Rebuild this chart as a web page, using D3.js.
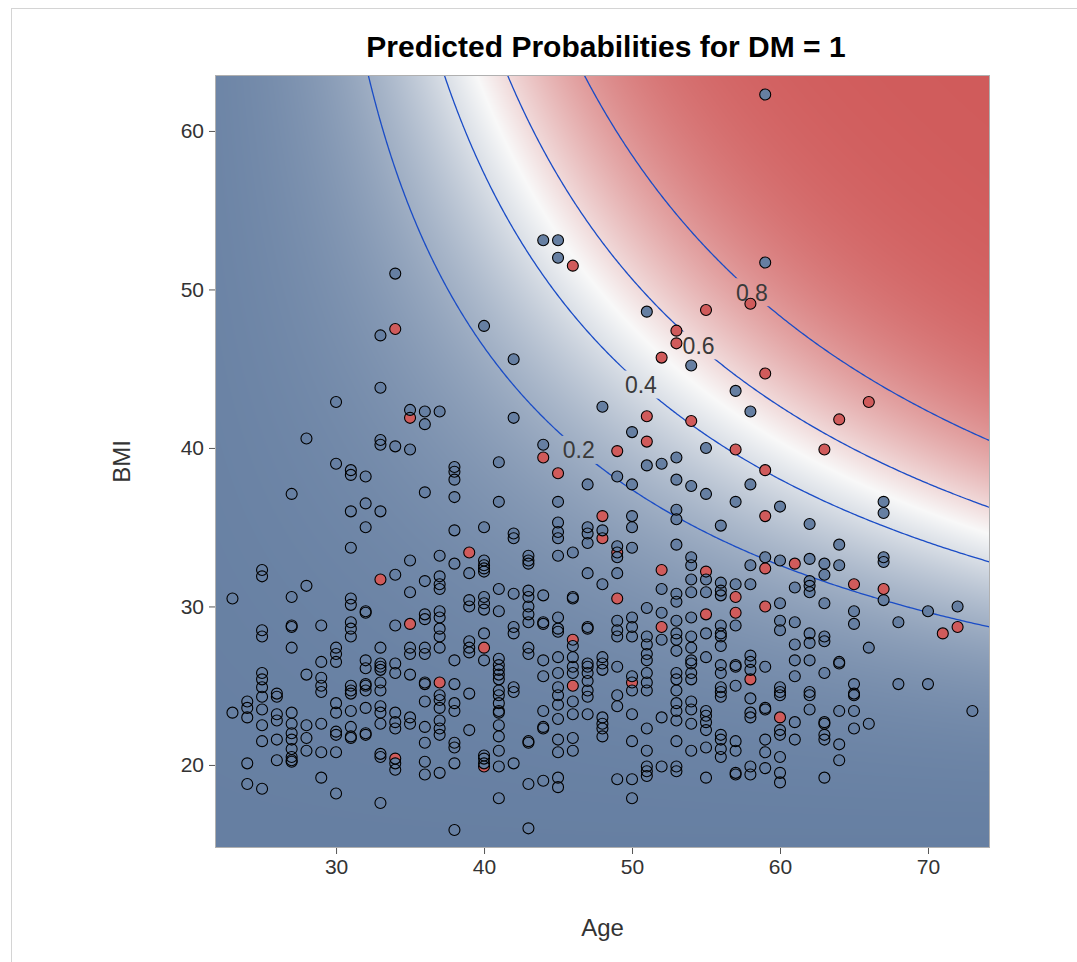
<!DOCTYPE html>
<html>
<head>
<meta charset="utf-8">
<script src="https://cdn.jsdelivr.net/npm/d3@7"></script>
<style>
  body { margin: 0; background: #fff; }
  svg { display: block; font-family: "Liberation Sans", Arial, sans-serif; }
</style>
</head>
<body>
<svg id="chart" width="1077" height="962"></svg>
<script>
// Observed patients, grouped by age: [age, [BMI values]]
const noDiabetesByAge = [
  [23, [30.5, 23.3]],
  [24, [24.0, 23.6, 23.0, 20.1, 18.8]],
  [25, [32.3, 31.9, 28.5, 28.1, 25.8, 25.4, 24.9, 24.3, 23.5, 22.5, 21.5, 18.5]],
  [26, [24.5, 24.3, 23.2, 22.8, 21.6, 20.3]],
  [27, [37.1, 30.6, 28.8, 28.7, 27.4, 23.3, 22.6, 22.0, 21.6, 21.0, 20.5, 20.3, 20.2]],
  [28, [40.6, 31.3, 25.7, 22.5, 21.7, 20.9]],
  [29, [28.8, 26.5, 25.5, 25.0, 24.6, 22.6, 20.8, 19.2]],
  [30, [42.9, 39.0, 27.4, 27.0, 26.5, 23.9, 23.3, 22.1, 21.9, 20.8, 18.2]],
  [31, [38.6, 38.3, 36.0, 33.7, 30.5, 30.1, 29.0, 28.6, 28.1, 25.0, 24.7, 24.5, 23.4, 22.4, 21.8, 21.7]],
  [32, [38.2, 36.5, 35.0, 29.7, 29.6, 26.6, 26.1, 25.1, 25.0, 24.7, 23.6, 22.0, 21.9]],
  [33, [47.1, 43.8, 40.5, 40.2, 36.0, 27.4, 26.4, 26.2, 26.0, 25.2, 24.7, 23.7, 23.3, 22.6, 20.7, 20.5, 17.6]],
  [34, [51.0, 40.1, 32.0, 28.8, 26.4, 25.8, 23.3, 22.7, 22.3, 20.1, 19.7]],
  [35, [42.4, 39.9, 32.9, 30.9, 27.4, 27.0, 25.7, 23.0, 22.6]],
  [36, [42.3, 41.5, 37.2, 31.6, 29.5, 29.2, 27.4, 27.0, 25.2, 25.1, 24.0, 22.4, 21.4, 20.2, 19.4]],
  [37, [42.3, 33.2, 31.9, 31.4, 31.1, 29.7, 29.3, 28.6, 28.1, 27.4, 24.4, 24.1, 23.6, 22.8, 22.3, 21.9, 19.5]],
  [38, [38.8, 38.5, 38.0, 36.9, 34.8, 32.7, 26.6, 25.1, 23.9, 23.4, 21.4, 21.1, 20.1, 15.9]],
  [39, [32.1, 30.4, 30.0, 27.8, 27.4, 27.1, 24.5, 22.2]],
  [40, [47.7, 35.0, 32.9, 32.6, 32.4, 32.2, 30.6, 30.2, 29.8, 28.3, 26.6, 20.6, 20.4, 20.1]],
  [41, [39.1, 36.6, 31.1, 29.7, 26.7, 26.3, 26.0, 25.7, 25.4, 24.7, 24.4, 23.9, 23.4, 23.3, 22.5, 21.8, 20.9, 19.9, 17.9]],
  [42, [45.6, 41.9, 34.6, 34.3, 30.8, 28.7, 28.3, 24.9, 24.6, 20.1]],
  [43, [33.2, 32.9, 32.7, 31.0, 30.6, 30.0, 29.5, 29.0, 27.4, 27.0, 21.5, 21.4, 18.8, 16.0]],
  [44, [53.1, 40.2, 30.7, 29.0, 28.9, 26.6, 25.6, 23.4, 22.4, 22.3, 19.0]],
  [45, [53.1, 52.0, 36.6, 35.3, 34.7, 34.3, 33.2, 29.3, 28.6, 28.4, 26.8, 25.8, 24.9, 24.4, 23.8, 22.9, 21.6, 20.8, 19.2, 18.6]],
  [46, [33.4, 30.6, 30.5, 27.5, 26.8, 26.2, 25.8, 24.0, 23.2, 21.7, 20.9]],
  [47, [37.7, 35.0, 34.6, 34.0, 32.1, 28.7, 28.6, 26.4, 26.2, 25.8, 25.3, 24.7, 24.3, 23.2]],
  [48, [42.6, 34.8, 31.4, 26.8, 26.4, 26.0, 23.0, 22.6, 22.3, 21.8]],
  [49, [38.2, 33.8, 33.1, 32.1, 29.1, 28.5, 28.1, 26.2, 24.4, 23.7, 19.1]],
  [50, [41.0, 37.7, 35.7, 35.0, 33.7, 29.3, 28.7, 28.1, 25.6, 24.7, 23.2, 21.5, 19.1, 17.9]],
  [51, [48.6, 38.9, 29.9, 28.1, 27.6, 27.0, 26.6, 25.8, 25.2, 24.7, 22.3, 20.9, 19.9, 19.6, 19.3]],
  [52, [39.0, 31.1, 29.6, 27.9, 23.0, 19.9]],
  [53, [39.4, 38.0, 36.1, 35.5, 33.9, 30.8, 30.3, 29.1, 28.3, 27.9, 27.2, 25.8, 25.4, 24.7, 23.9, 23.4, 22.8, 21.5, 19.9, 19.6]],
  [54, [45.2, 37.6, 33.1, 32.6, 31.7, 30.9, 29.3, 28.1, 27.4, 26.6, 26.4, 25.8, 25.4, 24.0, 23.5, 22.6, 20.9]],
  [55, [40.0, 37.1, 31.7, 30.9, 28.3, 26.8, 23.4, 23.1, 22.7, 22.2, 21.1, 19.2]],
  [56, [35.1, 31.5, 31.0, 30.7, 28.8, 28.3, 28.1, 27.5, 26.3, 25.8, 24.9, 24.6, 24.3, 21.9, 21.6, 21.0, 20.5]],
  [57, [43.6, 36.6, 31.4, 28.8, 26.3, 26.2, 25.0, 21.5, 20.9, 19.5, 19.4]],
  [58, [42.3, 37.7, 32.6, 31.4, 26.9, 26.5, 26.0, 24.2, 23.3, 23.0, 19.9, 19.4]],
  [59, [62.3, 51.7, 33.1, 26.2, 23.6, 23.5, 21.6, 20.8, 19.8]],
  [60, [36.3, 32.9, 30.2, 29.1, 28.5, 24.9, 24.6, 24.4, 22.2, 21.9, 20.5, 19.5, 18.9]],
  [61, [31.2, 29.0, 27.6, 26.6, 25.6, 22.7, 21.6]],
  [62, [35.2, 33.0, 31.6, 31.3, 30.9, 28.3, 27.7, 26.6, 24.6, 24.4, 23.5]],
  [63, [32.7, 32.0, 30.2, 28.1, 27.8, 25.8, 22.7, 22.6, 21.9, 21.6, 19.2]],
  [64, [33.9, 32.6, 26.5, 26.4, 23.4, 21.3, 20.3]],
  [65, [29.7, 28.9, 25.1, 24.5, 24.4, 23.4, 22.3]],
  [66, [27.4, 22.6]],
  [67, [36.6, 35.9, 33.1, 32.8, 30.4]],
  [68, [29.0, 25.1]],
  [70, [29.7, 25.1]],
  [72, [30.0]],
  [73, [23.4]]
];

const diabetesByAge = [
  [33, [31.7]],
  [34, [47.5, 20.4]],
  [35, [41.9, 28.9]],
  [37, [25.2]],
  [39, [33.4]],
  [40, [27.4, 19.9]],
  [44, [39.4]],
  [45, [38.4]],
  [46, [51.5, 27.9, 25.0]],
  [48, [35.7, 34.3]],
  [49, [39.8, 33.4, 30.5]],
  [50, [25.2]],
  [51, [42.0, 40.4]],
  [52, [45.7, 32.3, 28.7]],
  [53, [47.4, 46.6]],
  [54, [41.7]],
  [55, [48.7, 32.2, 29.5]],
  [57, [39.9, 30.6, 29.6]],
  [58, [49.1, 25.4]],
  [59, [44.7, 38.6, 35.7, 32.4, 30.0]],
  [60, [23.0]],
  [61, [32.7]],
  [63, [39.9]],
  [64, [41.8]],
  [65, [31.4]],
  [66, [42.9]],
  [67, [31.1]],
  [71, [28.3]],
  [72, [28.7]]
];

// Fitted logistic model for P(DM = 1)
const modelTerms = ["Intercept", "Age", "BMI", "Age*BMI", "Age*Age", "BMI*BMI"];
const modelEstimates = [-4.6401, -0.04709, -0.02001, 0.00385, -0.000095, -0.000429];

// Contour levels and the age at which each level is labelled
const contourLevels = [0.2, 0.4, 0.6, 0.8];
const contourLabelAges = [46.4, 50.6, 54.5, 58.1];

// Axis ranges and ticks
const ageRange = [21.82, 74.19];
const bmiRange = [14.76, 63.53];
const ageTicks = [30, 40, 50, 60, 70];
const bmiTicks = [20, 30, 40, 50, 60];

const titleText = "Predicted Probabilities for DM = 1";
const xLabel = "Age";
const yLabel = "BMI";

// ---------------------------------------------------------------
const rampColors = ["#667FA2", "#F8F8F8", "#D05B5B"];
const plot = { left: 215, top: 75, right: 990, bottom: 848 };
const pw = plot.right - plot.left, ph = plot.bottom - plot.top;

const svg = d3.select("#chart");
const x = d3.scaleLinear().domain(ageRange).range([plot.left, plot.right]);
const y = d3.scaleLinear().domain(bmiRange).range([plot.bottom, plot.top]);

function linearPredictor(age, bmi) {
  const e = modelEstimates;
  return e[0] + e[1] * age + e[2] * bmi + e[3] * age * bmi
       + e[4] * age * age + e[5] * bmi * bmi;
}
function probability(age, bmi) {
  return 1 / (1 + Math.exp(-linearPredictor(age, bmi)));
}

// Page frame
svg.append("rect")
  .attr("x", 11.5).attr("y", 8.5)
  .attr("width", 1100).attr("height", 1000)
  .attr("fill", "none").attr("stroke", "#d4d4d4");

// Probability surface painted pixel by pixel
const canvas = document.createElement("canvas");
canvas.width = pw; canvas.height = ph;
const ctx = canvas.getContext("2d");
const probs = new Float64Array(pw * ph);
let pMin = Infinity, pMax = -Infinity;
for (let j = 0; j < ph; j++) {
  const bmi = y.invert(plot.top + j + 0.5);
  for (let i = 0; i < pw; i++) {
    const p = probability(x.invert(plot.left + i + 0.5), bmi);
    probs[j * pw + i] = p;
    if (p < pMin) pMin = p;
    if (p > pMax) pMax = p;
  }
}
const ramp = d3.scaleLinear()
  .domain([pMin, (pMin + pMax) / 2, pMax])
  .range(rampColors)
  .interpolate(d3.interpolateRgb);
const img = ctx.createImageData(pw, ph);
for (let k = 0; k < probs.length; k++) {
  const c = d3.rgb(ramp(probs[k]));
  img.data[4 * k] = c.r; img.data[4 * k + 1] = c.g;
  img.data[4 * k + 2] = c.b; img.data[4 * k + 3] = 255;
}
ctx.putImageData(img, 0, 0);
svg.append("image")
  .attr("x", plot.left).attr("y", plot.top)
  .attr("width", pw).attr("height", ph)
  .attr("href", canvas.toDataURL());

const defs = svg.append("defs");
defs.append("clipPath").attr("id", "plotClip")
  .append("rect").attr("x", plot.left).attr("y", plot.top)
  .attr("width", pw).attr("height", ph);

// Contour lines of the surface
const n = 300, m = 300;
const da = (ageRange[1] - ageRange[0]) / (n - 1);
const db = (bmiRange[1] - bmiRange[0]) / (m - 1);
const grid = new Array(n * m);
for (let j = 0; j < m; j++) {
  for (let i = 0; i < n; i++) {
    grid[j * n + i] = probability(ageRange[0] + i * da, bmiRange[0] + j * db);
  }
}
const contours = d3.contours().size([n, m]).thresholds(contourLevels)(grid);
const toScreen = d3.geoTransform({
  point: function(gx, gy) {
    this.stream.point(
      x(ageRange[0] + (gx - 0.5) * da),
      y(bmiRange[0] + (gy - 0.5) * db)
    );
  }
});
const contourPath = d3.geoPath(toScreen);

// BMI at which a contour crosses a given age (bisection on the rising surface)
function contourBmi(level, age) {
  let lo = bmiRange[0], hi = bmiRange[1];
  for (let it = 0; it < 60; it++) {
    const mid = (lo + hi) / 2;
    if (probability(age, mid) < level) lo = mid; else hi = mid;
  }
  return (lo + hi) / 2;
}
const labels = contourLevels.map((lev, k) => ({
  level: lev,
  age: contourLabelAges[k],
  bmi: contourBmi(lev, contourLabelAges[k]),
  text: d3.format(".1f")(lev)
}));

// Gaps in the contour lines behind their labels
const mask = defs.append("mask").attr("id", "labelGaps")
  .attr("maskUnits", "userSpaceOnUse")
  .attr("x", 0).attr("y", 0).attr("width", 1077).attr("height", 962);
mask.append("rect").attr("x", 0).attr("y", 0)
  .attr("width", 1077).attr("height", 962).attr("fill", "#fff");
mask.selectAll("rect.gap").data(labels).join("rect")
  .attr("class", "gap")
  .attr("x", d => x(d.age) - 20).attr("y", d => y(d.bmi) - 14)
  .attr("width", 40).attr("height", 28).attr("fill", "#000");

svg.append("g")
  .attr("clip-path", "url(#plotClip)")
  .append("g").attr("mask", "url(#labelGaps)")
  .selectAll("path").data(contours).join("path")
  .attr("d", contourPath)
  .attr("fill", "none")
  .attr("stroke", "#1a4cc6")
  .attr("stroke-width", 1.3);

svg.append("g").selectAll("text").data(labels).join("text")
  .attr("x", d => x(d.age)).attr("y", d => y(d.bmi))
  .attr("dy", "0.36em")
  .attr("text-anchor", "middle")
  .attr("font-size", 23)
  .attr("fill", "#3a3a3a")
  .text(d => d.text);

// Observations: fills first, outlines on top
const flatten = (groups, dm) => groups.flatMap(([age, bmis]) => bmis.map(bmi => ({ age, bmi, dm })));
const points = flatten(diabetesByAge, 1).concat(flatten(noDiabetesByAge, 0));
const markerFill = d3.scaleOrdinal().domain([0, 1]).range([rampColors[0], rampColors[2]]);
const r = 5.5;
const pts = svg.append("g").attr("clip-path", "url(#plotClip)");
pts.append("g").selectAll("circle").data(points).join("circle")
  .attr("cx", d => x(d.age)).attr("cy", d => y(d.bmi)).attr("r", r)
  .attr("fill", d => markerFill(d.dm));
pts.append("g").selectAll("circle").data(points).join("circle")
  .attr("cx", d => x(d.age)).attr("cy", d => y(d.bmi)).attr("r", r)
  .attr("fill", "none").attr("stroke", "#000").attr("stroke-width", 1.1);

// Axes
const xAxis = svg.append("g")
  .attr("transform", `translate(0,${plot.bottom})`)
  .call(d3.axisBottom(x).tickValues(ageTicks).tickSize(6).tickPadding(5));
const yAxis = svg.append("g")
  .attr("transform", `translate(${plot.left},0)`)
  .call(d3.axisLeft(y).tickValues(bmiTicks).tickSize(6).tickPadding(5));
[xAxis, yAxis].forEach(g => {
  g.select(".domain").remove();
  g.selectAll(".tick line").attr("stroke", "#555");
  g.selectAll(".tick text")
    .attr("font-size", 21)
    .attr("font-family", "Liberation Sans, Arial, sans-serif")
    .attr("fill", "#333");
});

// Plot frame
svg.append("rect")
  .attr("x", plot.left + 0.5).attr("y", plot.top + 0.5)
  .attr("width", pw - 1).attr("height", ph - 1)
  .attr("fill", "none").attr("stroke", "#b0b0b0");

// Titles
svg.append("text")
  .attr("x", 606).attr("y", 57)
  .attr("text-anchor", "middle")
  .attr("font-size", 30).attr("font-weight", "bold").attr("fill", "#000")
  .text(titleText);
svg.append("text")
  .attr("x", (plot.left + plot.right) / 2).attr("y", 936)
  .attr("text-anchor", "middle")
  .attr("font-size", 24).attr("fill", "#333")
  .text(xLabel);
svg.append("text")
  .attr("transform", `translate(130,${(plot.top + plot.bottom) / 2}) rotate(-90)`)
  .attr("text-anchor", "middle")
  .attr("font-size", 24).attr("fill", "#333")
  .text(yLabel);
</script>
</body>
</html>
